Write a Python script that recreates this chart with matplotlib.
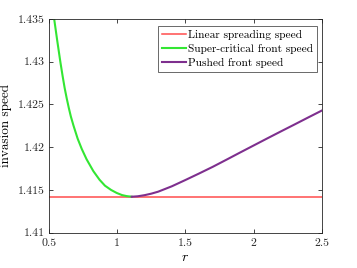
import matplotlib
matplotlib.use("Agg")
import matplotlib.pyplot as plt

plt.rcParams['font.family'] = ['cmr10', 'DejaVu Serif']
plt.rcParams['mathtext.fontset'] = 'cm'
plt.rcParams['axes.formatter.use_mathtext'] = True

# Data
linear_r = [0.5, 2.5]
linear_v = [1.41421, 1.41421]

super_r = [0.538, 0.560, 0.583, 0.600, 0.615, 0.630, 0.645, 0.660, 0.680, 0.710, 0.740,
           0.775, 0.825, 0.870, 0.910, 0.955, 0.996, 1.035, 1.069, 1.106]
super_v = [1.4350, 1.4325, 1.4300, 1.4283, 1.4269, 1.4257, 1.4246, 1.4236, 1.4225, 1.4210, 1.4198,
           1.4186, 1.4172, 1.4162, 1.4155, 1.4150, 1.41465, 1.41440, 1.41428, 1.41421]

pushed_r = [1.106, 1.15, 1.2, 1.25, 1.3, 1.4, 1.5, 1.6, 1.7, 1.8, 1.9, 2.0, 2.1, 2.2, 2.3, 2.4, 2.5]
pushed_v = [1.41421, 1.41426, 1.41439, 1.41457, 1.41480, 1.41543, 1.41617, 1.41693, 1.41771,
            1.41854, 1.41938, 1.42021, 1.42104, 1.42186, 1.42267, 1.42349, 1.42430]

xticks = [0.5, 1, 1.5, 2, 2.5]
xtick_labels = ['0.5', '1', '1.5', '2', '2.5']
yticks = [1.41, 1.415, 1.42, 1.425, 1.43, 1.435]
ytick_labels = ['1.41', '1.415', '1.42', '1.425', '1.43', '1.435']

fig = plt.figure(figsize=(3.57, 2.68), dpi=100)
ax = fig.add_axes([49/357, 1-232.7/268, (322-49)/357, (232.7-19)/268])

ax.plot(linear_r, linear_v, color='#ff4d4d', lw=1.1, label='Linear spreading speed')
ax.plot(super_r, super_v, color='#33e633', lw=1.5, label='Super-critical front speed')
ax.plot(pushed_r, pushed_v, color='#7e2f8e', lw=1.5, label='Pushed front speed')

ax.set_xlim(0.5, 2.5)
ax.set_ylim(1.41, 1.435)
ax.set_xticks(xticks)
ax.set_xticklabels(xtick_labels)
ax.set_yticks(yticks)
ax.set_yticklabels(ytick_labels)
ax.tick_params(direction='in', length=3, width=0.6, labelsize=8.5, colors='#262626',
               top=True, right=True)
ax.tick_params(axis='x', pad=4)
ax.tick_params(axis='y', pad=3)
for s in ax.spines.values():
    s.set_color('#262626')
    s.set_linewidth(0.6)

ax.set_xlabel('$r$', fontsize=10, labelpad=3)
ax.set_ylabel('invasion speed', fontsize=9.5, labelpad=4)

leg = ax.legend(loc='upper right', fontsize=8.2, frameon=True, fancybox=False,
                borderpad=0.35, labelspacing=0.35, handlelength=2.1, handletextpad=0.2,
                borderaxespad=0.0, bbox_to_anchor=(317/357, 1-26/268),
                bbox_transform=fig.transFigure)
leg.get_frame().set_edgecolor('#262626')
leg.get_frame().set_linewidth(0.6)

fig.savefig('out.png', dpi=100)
